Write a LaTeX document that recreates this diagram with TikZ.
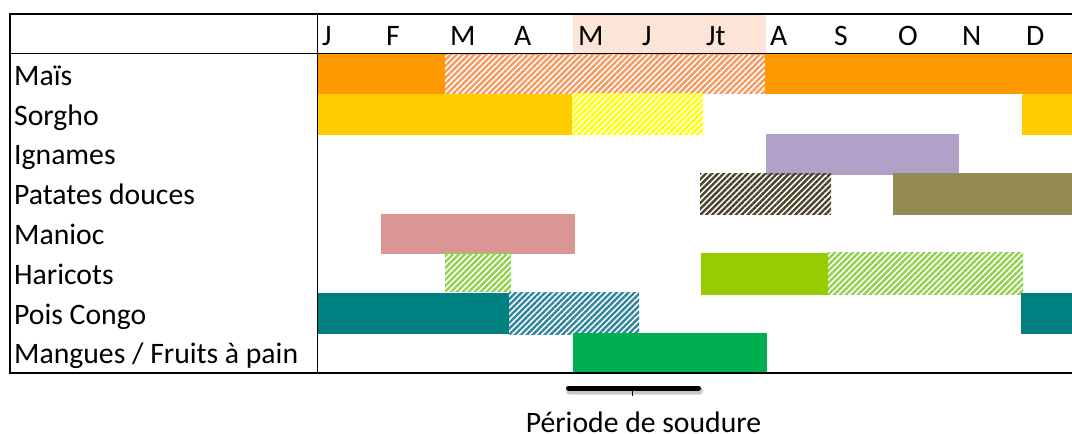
\documentclass[tikz,border=0pt]{standalone}
\usepackage{fontspec}
\setmainfont{Carlito}
\usetikzlibrary{patterns.meta}
\definecolor{maisC}{HTML}{FF9900}
\definecolor{maisH}{HTML}{F59A60}
\definecolor{sorghoC}{HTML}{FFCC00}
\definecolor{sorghoH}{HTML}{FFFF00}
\definecolor{ignC}{HTML}{B1A0C7}
\definecolor{patH}{HTML}{4A452A}
\definecolor{patC}{HTML}{948A54}
\definecolor{manC}{HTML}{DA9694}
\definecolor{harH}{HTML}{92D050}
\definecolor{harC}{HTML}{99CC00}
\definecolor{poisC}{HTML}{008080}
\definecolor{poisH}{HTML}{31859C}
\definecolor{mangC}{HTML}{00B050}
\definecolor{headC}{HTML}{FCE4D6}
\begin{document}
\begin{tikzpicture}[x=1pt,y=-1pt,
  lbl/.style={anchor=base west, inner sep=0pt, font=\fontsize{29.7}{34}\selectfont},
  hatchfill/.style={pattern={Lines[angle=45,distance=4.2pt,line width=2.4pt]}, pattern color=#1},
  gridline/.style={line width=1.6pt, black}]
\useasboundingbox (0,0) rectangle (1072,434);
\fill[white] (0,0) rectangle (1072,434);
% header highlight
\fill[headC] (573,14) rectangle (766,53.5);
% Maïs
\fill[maisC] (318,54) rectangle (445,93.5);
\fill[hatchfill=maisH] (445,54) rectangle (765,93.5);
\draw[maisH, line width=1pt, dash pattern=on 3pt off 2pt] (445,54.5) -- (765,54.5);
\fill[maisC] (765,54) rectangle (1072,93.5);
% Sorgho
\fill[sorghoC] (318,93.5) rectangle (572,134.5);
\fill[hatchfill=sorghoH] (572,93.5) rectangle (703,134.5);
\fill[sorghoC] (1022,93.5) rectangle (1072,134.5);
% Ignames
\fill[ignC] (766,133.5) rectangle (959,174.5);
% Patates douces
\fill[hatchfill=patH] (700,173) rectangle (831,214.5);
\fill[patC] (893,173) rectangle (1072,214.5);
% Manioc
\fill[manC] (381,213.5) rectangle (575,254);
% Haricots
\fill[hatchfill=harH] (445,252.5) rectangle (511,291.5);
\fill[harC] (701,253) rectangle (828,294.5);
\fill[hatchfill=harH] (828,252.5) rectangle (1023,294.5);
% Pois Congo
\fill[poisC] (318,292.5) rectangle (509,334);
\fill[hatchfill=poisH] (509,292.5) rectangle (639,334);
\fill[poisC] (1021,292.5) rectangle (1072,334);
% Mangues
\fill[mangC] (573,332.5) rectangle (767,372.5);
% grid lines
\draw[gridline] (10,14) -- (1072,14);
\draw[gridline] (10,53.5) -- (1072,53.5);
\draw[gridline] (10,373) -- (1072,373);
\draw[gridline] (10,13.2) -- (10,373.8);
\draw[gridline] (317.5,13.2) -- (317.5,373.8);
% month labels
\foreach \m [count=\k from 0] in {J,F,M,A,M,J,Jt,A,S,O,N,D}
  \node[lbl] (month\k) at ({322+64*\k},45) {\m};
% row labels
\node[lbl] (r1) at (14,85) {Maïs};
\node[lbl] (r2) at (14,125) {Sorgho};
\node[lbl] (r3) at (14,164.5) {Ignames};
\node[lbl] (r4) at (14,204) {Patates douces};
\node[lbl] (r5) at (14,244) {Manioc};
\node[lbl] (r6) at (14,284) {Haricots};
\node[lbl] (r7) at (14,324) {Pois Congo};
\node[lbl] (r8) at (14,363.5) {Mangues / Fruits à pain};
% période de soudure bracket
\coordinate (bl) at (568.5,388);
\coordinate (br) at (698.5,388);
\coordinate (bm) at (632.7,388);
\coordinate (bt) at (632.7,395.5);
\draw[line width=8pt, black!12, line cap=round] ([shift={(1,3)}]bl) -- ([shift={(1,3)}]br);
\draw[line width=6pt, black!22, line cap=round] ([shift={(1,2.5)}]bl) -- ([shift={(1,2.5)}]br);
\draw[line width=1.5pt, black] (bm) -- (bt);
\draw[line width=5pt, black, line cap=round] (bl) -- (br);
\node[anchor=base, inner sep=0pt, text depth=0pt, font=\fontsize{29.7}{34}\selectfont] (soud) at (643.5,432) {Période de soudure};
\end{tikzpicture}
\end{document}
